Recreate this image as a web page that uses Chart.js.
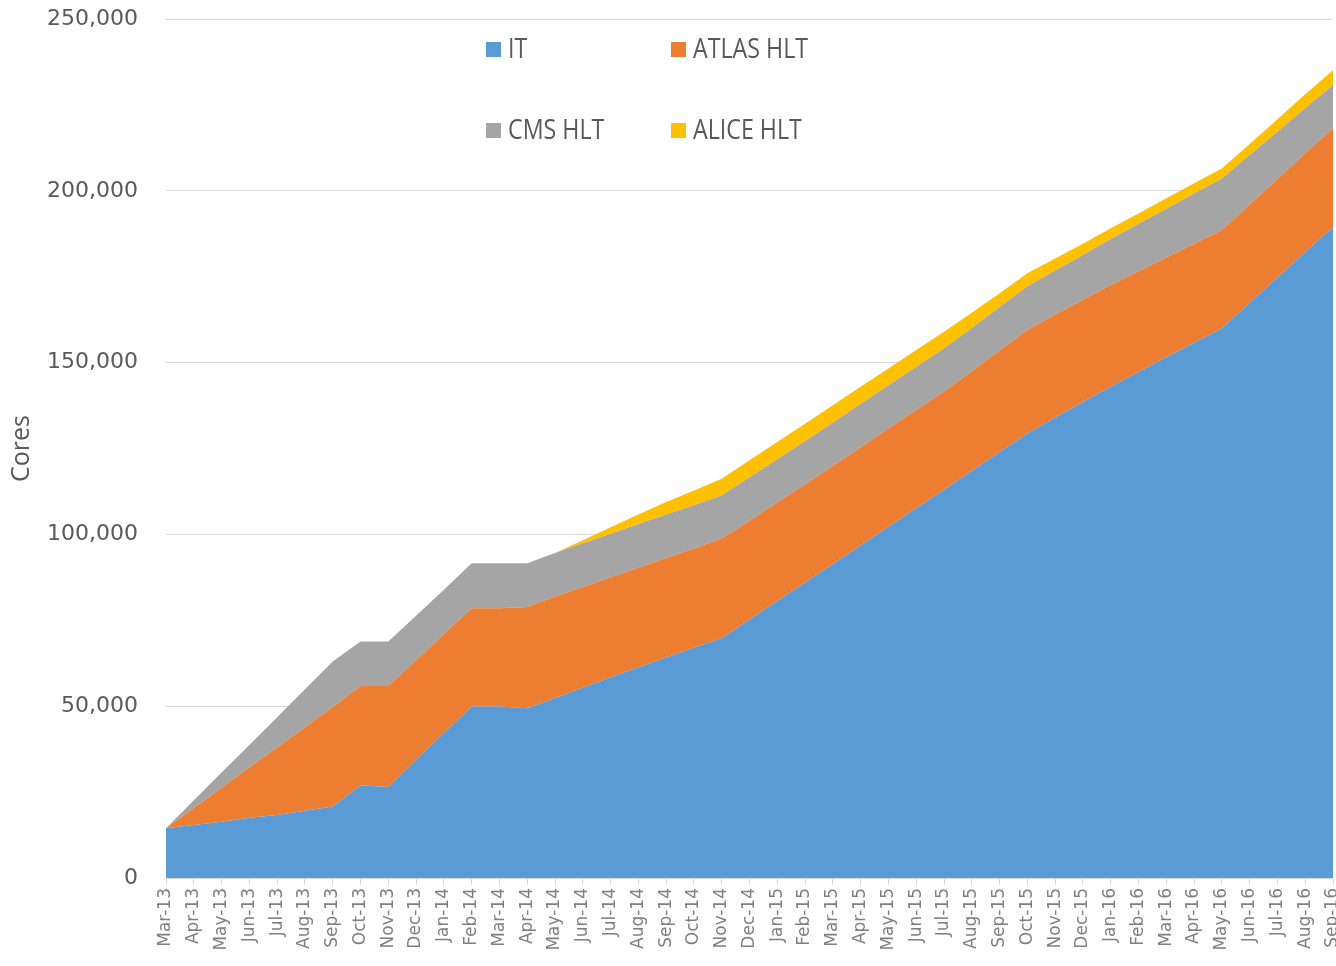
<!DOCTYPE html>
<html>
<head>
  <title>Cores</title>
  <style>
    body { margin: 0; overflow: hidden; background: #fff; }
    #wrap { position: relative; width: 1336px; height: 966px; }
  </style>
</head>
<body>
  <div id="wrap">
    <canvas id="chart"></canvas>
  </div>

  <script src="https://cdn.jsdelivr.net/npm/chart.js"></script>
  <script>
    const months = [
      'Mar-13','Apr-13','May-13','Jun-13','Jul-13','Aug-13','Sep-13','Oct-13','Nov-13','Dec-13',
      'Jan-14','Feb-14','Mar-14','Apr-14','May-14','Jun-14','Jul-14','Aug-14','Sep-14','Oct-14','Nov-14','Dec-14',
      'Jan-15','Feb-15','Mar-15','Apr-15','May-15','Jun-15','Jul-15','Aug-15','Sep-15','Oct-15','Nov-15','Dec-15',
      'Jan-16','Feb-16','Mar-16','Apr-16','May-16','Jun-16','Jul-16','Aug-16','Sep-16'
    ];

    const itCores = [
      14500, 15400, 16400, 17500, 18300, 19600, 20800, 27000, 26500, 34500,
      42200, 49900, 49900, 49400, 52400, 55400, 58400, 61300, 64200, 67000, 69800, 75200,
      80600, 86000, 91400, 96800, 102200, 107600, 113000, 118500, 124000, 129400, 134000, 138500,
      143000, 147300, 151600, 155800, 160000, 167400, 174800, 182200, 189500
    ];
    const atlasCores = [
      0, 5000, 9900, 14700, 19700, 24300, 29000, 28900, 29400, 28900,
      28800, 28600, 28600, 29500, 29500, 29300, 29100, 29000, 28900, 28900, 29000, 28800,
      28700, 28600, 28600, 28600, 28600, 28600, 28600, 29000, 29500, 30100, 30000, 29800,
      29600, 29300, 29000, 28800, 28600, 28600, 28600, 28700, 28700
    ];
    const cmsCores = [
      0, 2200, 4400, 6500, 8800, 11000, 13200, 12900, 12900, 12900,
      12900, 13100, 13100, 12700, 12700, 12700, 12700, 12700, 12700, 12600, 12600, 12600,
      12600, 12600, 12600, 12600, 12600, 12600, 12600, 12600, 12700, 12700, 12800, 13000,
      13400, 13800, 14200, 14600, 15000, 14400, 13800, 13200, 12600
    ];
    const aliceCores = [
      0, 0, 0, 0, 0, 0, 0, 0, 0, 0,
      0, 0, 0, 0, 0, 900, 1900, 2800, 3600, 4300, 4800, 5000,
      5000, 5000, 5000, 5000, 4900, 4900, 4800, 4400, 4000, 3800, 3500, 3300,
      3100, 3000, 3000, 3000, 2900, 3200, 3600, 4000, 4300
    ];

    const seriesNames = ['IT', 'ATLAS HLT', 'CMS HLT', 'ALICE HLT'];
    const seriesColors = ['#5B9BD5', '#ED7D31', '#A5A5A5', '#FFC000'];
    const seriesData = [itCores, atlasCores, cmsCores, aliceCores];
    const yTicks = [0, 50000, 100000, 150000, 200000, 250000];

    const datasets = seriesNames.map((name, i) => ({
      label: name,
      data: seriesData[i],
      backgroundColor: seriesColors[i],
      borderColor: 'transparent',
      borderWidth: 0,
      pointRadius: 0,
      tension: 0,
      fill: i === 0 ? 'origin' : '-1'
    }));

    // legend sits inside the plot, two rows of two (square left edge, row centre)
    const legendPos = [[486, 50], [671, 50], [486, 131], [671, 131]];
    const boxLegend = {
      id: 'boxLegend',
      afterDraw(chart) {
        const ctx = chart.ctx;
        chart.data.datasets.forEach((ds, i) => {
          const [x, y] = legendPos[i];
          ctx.save();
          ctx.fillStyle = ds.backgroundColor;
          ctx.fillRect(x, y - 8, 15, 15);
          ctx.translate(x + 22, y);
          ctx.scale(0.86, 1);
          ctx.font = '27px "Open Sans"';
          ctx.fillStyle = '#595959';
          ctx.textBaseline = 'middle';
          ctx.fillText(ds.label, 0, 0);
          ctx.restore();
        });
      }
    };

    new Chart(document.getElementById('chart'), {
      type: 'line',
      data: { labels: months, datasets: datasets },
      plugins: [boxLegend],
      options: {
        responsive: true,
        maintainAspectRatio: false,
        animation: false,
        layout: { padding: { top: 19, right: 3, left: 0, bottom: 0 } },
        plugins: {
          legend: { display: false },
          tooltip: { enabled: false }
        },
        scales: {
          x: {
            offset: false,
            grid: { drawOnChartArea: false, drawTicks: true, tickLength: 7, color: '#D9D9D9' },
            border: { display: true, color: '#D9D9D9' },
            ticks: {
              autoSkip: false,
              minRotation: 90,
              maxRotation: 90,
              padding: 3,
              color: '#7F7F7F',
              font: { family: 'DejaVu Sans', size: 17 }
            },
            // last label runs off the edge, as in the original
            afterFit: scale => { scale.height = 88; scale.paddingRight = 0; scale.paddingLeft = 0; }
          },
          y: {
            stacked: true,
            min: 0,
            max: 250000,
            afterBuildTicks: scale => { scale.ticks = yTicks.map(v => ({ value: v })); },
            grid: { color: '#D9D9D9', drawTicks: false },
            border: { display: false },
            ticks: {
              padding: 28,
              color: '#595959',
              font: { family: 'DejaVu Sans', size: 22 },
              callback: v => v.toLocaleString('en-US')
            },
            title: {
              display: true,
              text: 'Cores',
              color: '#595959',
              padding: { top: 7, bottom: 0 },
              font: { family: 'Open Sans', size: 25 }
            },
            afterFit: scale => { scale.width = 166; scale.paddingTop = 0; scale.paddingBottom = 0; }
          }
        }
      }
    });
  </script>
</body>
</html>
